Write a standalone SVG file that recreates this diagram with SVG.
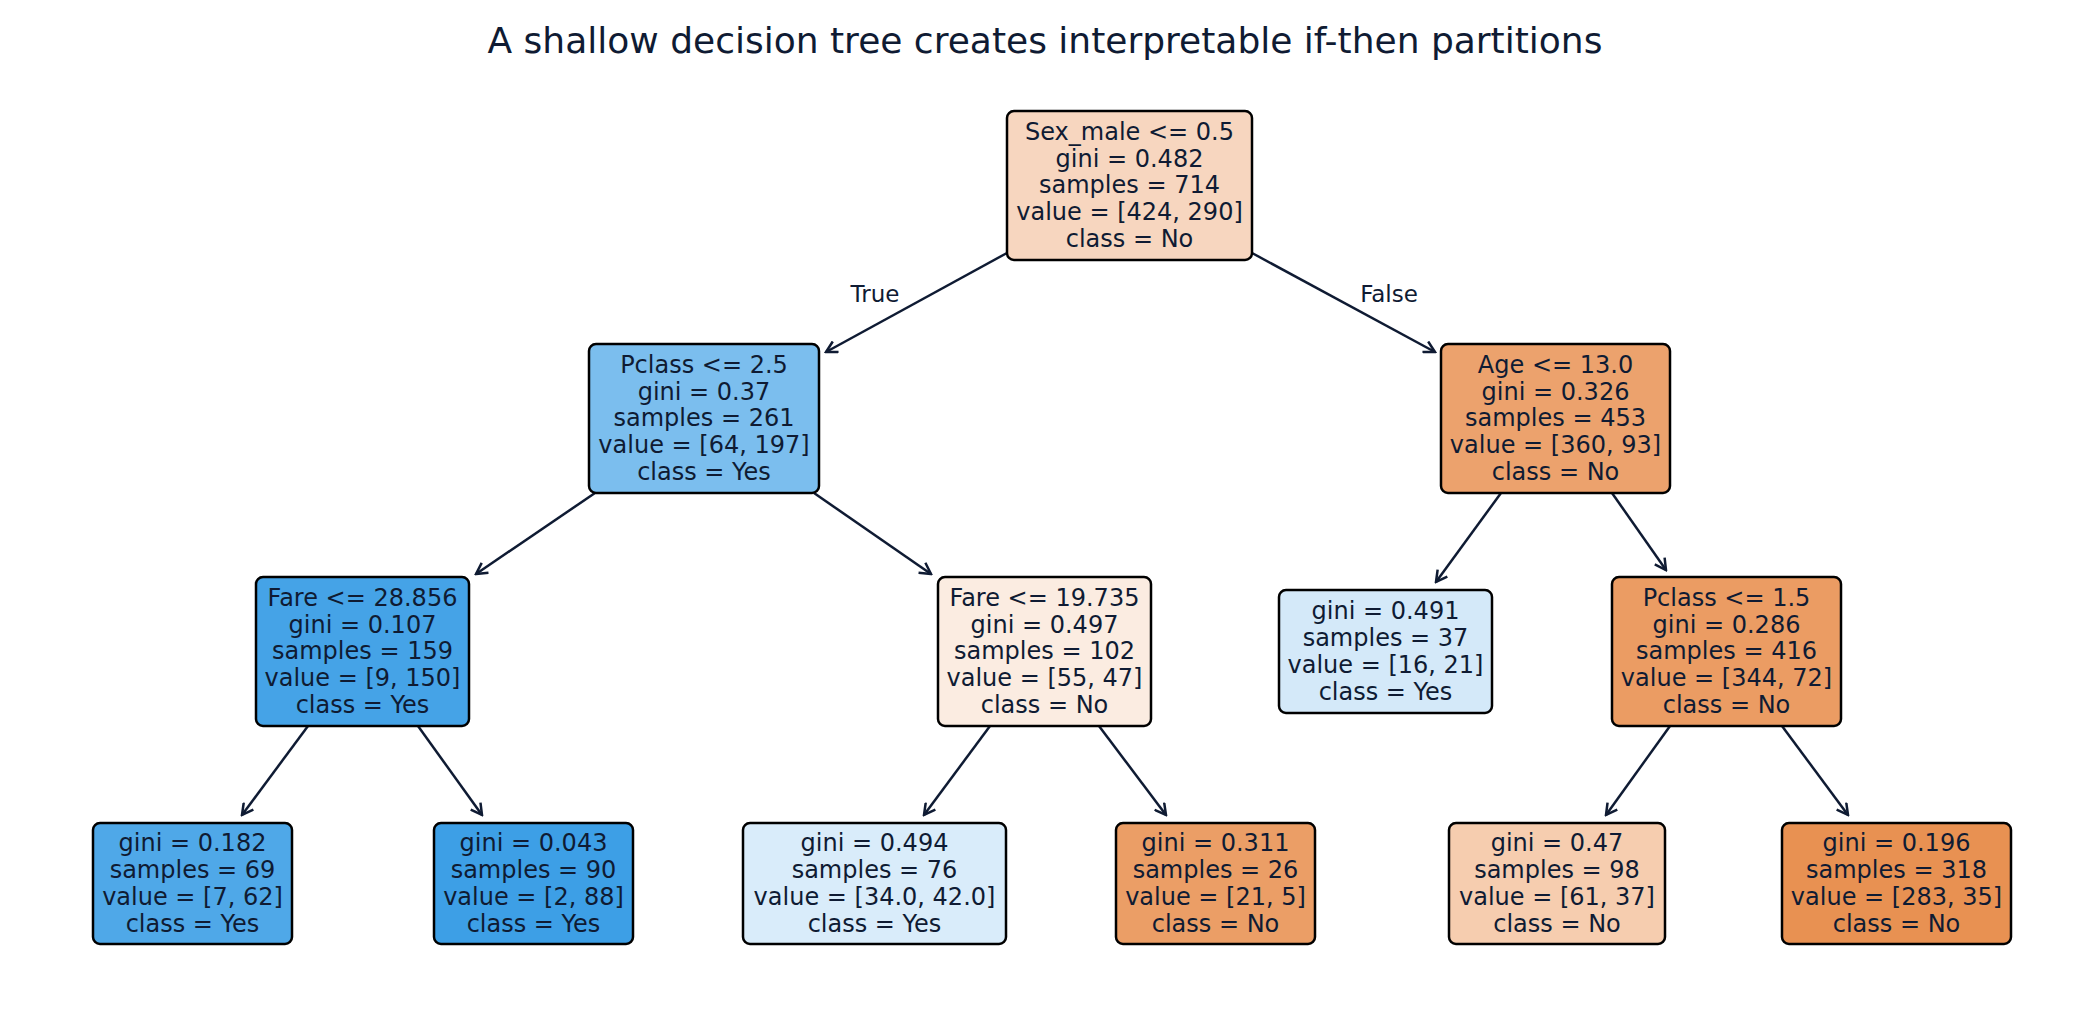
<svg xmlns="http://www.w3.org/2000/svg" width="2089" height="1023" viewBox="0 0 2089 1023">
<style>
text{font-family:"DejaVu Sans",sans-serif;fill:#0f1b33;text-anchor:middle;dominant-baseline:central}
.t{font-size:24px}
.n rect{stroke:#000;stroke-width:2.5}
.e line{stroke:#0f1b33;stroke-width:2.5;marker-end:url(#a)}
</style>
<defs><marker id="a" markerWidth="14" markerHeight="14" refX="12" refY="7" orient="auto" markerUnits="userSpaceOnUse"><polyline points="1,1 12,7 1,13" fill="none" stroke="#0f1b33" stroke-width="2.5"/></marker></defs>
<rect width="2089" height="1023" fill="#fff"/>
<text x="1045" y="40" style="font-size:36px">A shallow decision tree creates interpretable if-then partitions</text>
<g class="e">
<line x1="1007" y1="253" x2="826" y2="352"/>
<line x1="1252" y1="253" x2="1435" y2="352"/>
<line x1="595" y1="493" x2="476" y2="574"/>
<line x1="814" y1="493" x2="931" y2="574"/>
<line x1="1501" y1="493" x2="1436" y2="582"/>
<line x1="1612" y1="493" x2="1666" y2="570"/>
<line x1="308" y1="726" x2="242" y2="815"/>
<line x1="418" y1="726" x2="482" y2="815"/>
<line x1="990" y1="726" x2="924" y2="815"/>
<line x1="1099" y1="726" x2="1166" y2="815"/>
<line x1="1670" y1="726" x2="1606" y2="815"/>
<line x1="1782" y1="726" x2="1848" y2="815"/>
<text class="t" x="875" y="294" style="font-size:23px">True</text>
<text class="t" x="1389" y="294" style="font-size:23px">False</text>
</g>
<g id="root" class="n"><rect x="1007" y="111" width="245" height="149" rx="7" fill="#f7d6bf"/>
<text class="t" x="1129.5" y="132">Sex_male &lt;= 0.5</text><text class="t" x="1129.5" y="159">gini = 0.482</text><text class="t" x="1129.5" y="185">samples = 714</text><text class="t" x="1129.5" y="212">value = [424, 290]</text><text class="t" x="1129.5" y="239">class = No</text></g>
<g id="pclass25" class="n"><rect x="589" y="344" width="230" height="149" rx="7" fill="#7bbeee"/>
<text class="t" x="704" y="365">Pclass &lt;= 2.5</text><text class="t" x="704" y="392">gini = 0.37</text><text class="t" x="704" y="418">samples = 261</text><text class="t" x="704" y="445">value = [64, 197]</text><text class="t" x="704" y="472">class = Yes</text></g>
<g id="age" class="n"><rect x="1441" y="344" width="229" height="149" rx="7" fill="#eca26d"/>
<text class="t" x="1555.5" y="365">Age &lt;= 13.0</text><text class="t" x="1555.5" y="392">gini = 0.326</text><text class="t" x="1555.5" y="418">samples = 453</text><text class="t" x="1555.5" y="445">value = [360, 93]</text><text class="t" x="1555.5" y="472">class = No</text></g>
<g id="fare28" class="n"><rect x="256" y="577" width="213" height="149" rx="7" fill="#45a3e7"/>
<text class="t" x="362.5" y="598">Fare &lt;= 28.856</text><text class="t" x="362.5" y="625">gini = 0.107</text><text class="t" x="362.5" y="651">samples = 159</text><text class="t" x="362.5" y="678">value = [9, 150]</text><text class="t" x="362.5" y="705">class = Yes</text></g>
<g id="fare19" class="n"><rect x="938" y="577" width="213" height="149" rx="7" fill="#fbece1"/>
<text class="t" x="1044.5" y="598">Fare &lt;= 19.735</text><text class="t" x="1044.5" y="625">gini = 0.497</text><text class="t" x="1044.5" y="651">samples = 102</text><text class="t" x="1044.5" y="678">value = [55, 47]</text><text class="t" x="1044.5" y="705">class = No</text></g>
<g id="leaf491" class="n"><rect x="1279" y="590" width="213" height="123" rx="7" fill="#d4e9f9"/>
<text class="t" x="1385.5" y="611">gini = 0.491</text><text class="t" x="1385.5" y="638">samples = 37</text><text class="t" x="1385.5" y="665">value = [16, 21]</text><text class="t" x="1385.5" y="692">class = Yes</text></g>
<g id="pclass15" class="n"><rect x="1612" y="577" width="229" height="149" rx="7" fill="#eb9c63"/>
<text class="t" x="1726.5" y="598">Pclass &lt;= 1.5</text><text class="t" x="1726.5" y="625">gini = 0.286</text><text class="t" x="1726.5" y="651">samples = 416</text><text class="t" x="1726.5" y="678">value = [344, 72]</text><text class="t" x="1726.5" y="705">class = No</text></g>
<g id="l1" class="n"><rect x="93" y="823" width="199" height="121" rx="7" fill="#4fa8e8"/>
<text class="t" x="192.5" y="843">gini = 0.182</text><text class="t" x="192.5" y="870">samples = 69</text><text class="t" x="192.5" y="897">value = [7, 62]</text><text class="t" x="192.5" y="924">class = Yes</text></g>
<g id="l2" class="n"><rect x="434" y="823" width="199" height="121" rx="7" fill="#3d9fe6"/>
<text class="t" x="533.5" y="843">gini = 0.043</text><text class="t" x="533.5" y="870">samples = 90</text><text class="t" x="533.5" y="897">value = [2, 88]</text><text class="t" x="533.5" y="924">class = Yes</text></g>
<g id="l3" class="n"><rect x="743" y="823" width="263" height="121" rx="7" fill="#d9ecfa"/>
<text class="t" x="874.5" y="843">gini = 0.494</text><text class="t" x="874.5" y="870">samples = 76</text><text class="t" x="874.5" y="897">value = [34.0, 42.0]</text><text class="t" x="874.5" y="924">class = Yes</text></g>
<g id="l4" class="n"><rect x="1116" y="823" width="199" height="121" rx="7" fill="#eb9e66"/>
<text class="t" x="1215.5" y="843">gini = 0.311</text><text class="t" x="1215.5" y="870">samples = 26</text><text class="t" x="1215.5" y="897">value = [21, 5]</text><text class="t" x="1215.5" y="924">class = No</text></g>
<g id="l5" class="n"><rect x="1449" y="823" width="216" height="121" rx="7" fill="#f6cdaf"/>
<text class="t" x="1557" y="843">gini = 0.47</text><text class="t" x="1557" y="870">samples = 98</text><text class="t" x="1557" y="897">value = [61, 37]</text><text class="t" x="1557" y="924">class = No</text></g>
<g id="l6" class="n"><rect x="1782" y="823" width="229" height="121" rx="7" fill="#e89152"/>
<text class="t" x="1896.5" y="843">gini = 0.196</text><text class="t" x="1896.5" y="870">samples = 318</text><text class="t" x="1896.5" y="897">value = [283, 35]</text><text class="t" x="1896.5" y="924">class = No</text></g>
</svg>
